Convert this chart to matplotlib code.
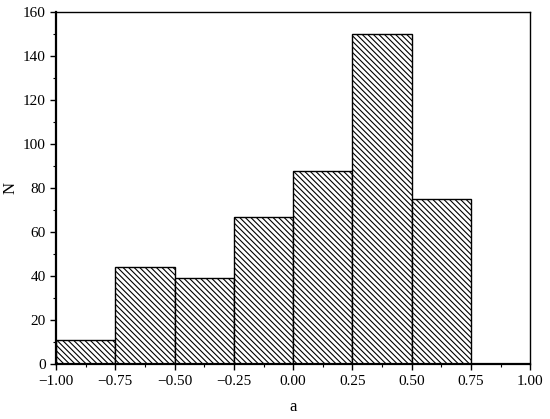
import matplotlib
matplotlib.use('Agg')
import matplotlib.pyplot as plt
import numpy as np

plt.rcParams['font.family'] = ['Liberation Serif', 'DejaVu Serif']
plt.rcParams['hatch.linewidth'] = 0.8

# bin edges and counts
bin_edges = [-1.00, -0.75, -0.50, -0.25, 0.00, 0.25, 0.50, 0.75]
counts = [11, 44, 39, 67, 88, 150, 75]
x_ticks = [-1.00, -0.75, -0.50, -0.25, 0.00, 0.25, 0.50, 0.75, 1.00]
y_ticks = [0, 20, 40, 60, 80, 100, 120, 140, 160]

fig = plt.figure(figsize=(5.5, 4.19), dpi=100)
ax = fig.add_axes([0.102, 0.131, 0.862, 0.840])

lefts = np.array(bin_edges[:-1])
widths = np.diff(bin_edges)
ax.bar(lefts, counts, width=widths, align='edge', facecolor='white',
       edgecolor='black', linewidth=1.0, hatch='\\' * 6)

ax.set_xlim(-1.0, 1.0)
ax.set_ylim(0, 160)
ax.set_xticks(x_ticks)
ax.set_xticklabels(['\u22121.00', '\u22120.75', '\u22120.50', '\u22120.25',
                    '0.00', '0.25', '0.50', '0.75', '1.00'])
ax.set_yticks(y_ticks)
ax.set_xticks(np.arange(-0.875, 1.0, 0.25), minor=True)
ax.set_yticks(np.arange(10, 160, 20), minor=True)

ax.tick_params(which='major', direction='out', length=4, width=1.0, labelsize=11)
ax.tick_params(which='minor', direction='out', length=2, width=0.8)
ax.spines['left'].set_linewidth(1.6)
ax.spines['bottom'].set_linewidth(1.6)
ax.spines['top'].set_linewidth(1.0)
ax.spines['right'].set_linewidth(1.0)

ax.set_xlabel('a', fontsize=12, labelpad=8)
ax.set_ylabel('N', fontsize=12, labelpad=3)

fig.savefig('out.png', dpi=100)
